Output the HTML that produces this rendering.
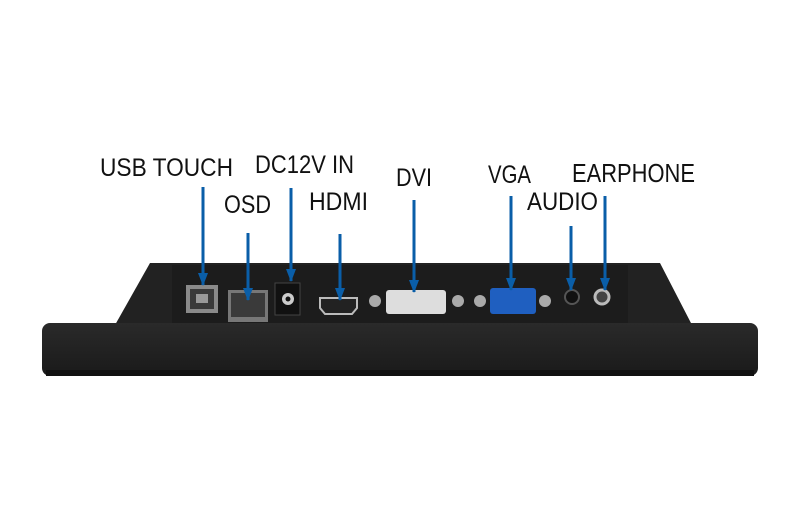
<!DOCTYPE html>
<html><head><style>html,body{margin:0;padding:0;background:#fff}svg{display:block}</style></head><body>
<svg width="800" height="517" viewBox="0 0 800 517" xmlns="http://www.w3.org/2000/svg">
<defs>
<linearGradient id="slab" x1="0" y1="0" x2="0" y2="1"><stop offset="0" stop-color="#2a2a2a"/><stop offset="1" stop-color="#1a1a1a"/></linearGradient>
<marker id="ah" markerWidth="13" markerHeight="11" refX="12" refY="5" orient="auto" markerUnits="userSpaceOnUse"><path d="M0,0 L13,5 L0,10 Z" fill="#0a5ea8"/></marker>
</defs>
<path d="M150,263 L660,263 L692,325 L115,325 Z" fill="#222"/>
<rect x="172" y="265" width="456" height="60" fill="#1c1c1c"/>
<rect x="42" y="323" width="716" height="53" rx="8" fill="url(#slab)"/>
<rect x="46" y="370" width="708" height="6" fill="#111"/>
<rect x="186" y="285" width="32" height="28" fill="#8a8a8a"/><rect x="190" y="289" width="24" height="20" fill="#3a3a3a"/><rect x="196" y="294" width="12" height="9" fill="#999"/>
<rect x="228" y="290" width="40" height="32" fill="#777"/><rect x="231" y="293" width="34" height="24" fill="#3a3a3a"/>
<rect x="275" y="283" width="25" height="32" fill="#111" stroke="#444"/><circle cx="288" cy="299" r="6" fill="#ccc"/><circle cx="288" cy="299" r="2.5" fill="#111"/>
<path d="M320,298 L357,298 L357,308 L352,314 L325,314 L320,308 Z" fill="#222" stroke="#bbb" stroke-width="2"/>
<circle cx="375" cy="301" r="6" fill="#aaa"/><circle cx="458" cy="301" r="6" fill="#aaa"/>
<rect x="386" y="290" width="60" height="24" rx="3" fill="#ddd"/>
<circle cx="480" cy="301" r="6" fill="#aaa"/><circle cx="545" cy="301" r="6" fill="#aaa"/>
<rect x="490" y="288" width="46" height="26" rx="3" fill="#1f5fc0"/>
<circle cx="572" cy="297" r="7" fill="#111" stroke="#555" stroke-width="2"/>
<circle cx="602" cy="297" r="7" fill="#444" stroke="#bbb" stroke-width="3"/>
<g stroke="#0a5ea8" stroke-width="3" marker-end="url(#ah)">
<line x1="203" y1="187" x2="203" y2="285"/>
<line x1="248" y1="233" x2="248" y2="300"/>
<line x1="291" y1="188" x2="291" y2="281"/>
<line x1="340" y1="234" x2="340" y2="300"/>
<line x1="414" y1="200" x2="414" y2="292"/>
<line x1="511" y1="196" x2="511" y2="290"/>
<line x1="571" y1="226" x2="571" y2="290"/>
<line x1="605" y1="196" x2="605" y2="290"/>
</g>
<g font-family="Liberation Sans, sans-serif" font-size="25" fill="#111">
<text x="100" y="176" textLength="133" lengthAdjust="spacingAndGlyphs">USB TOUCH</text>
<text x="224" y="213" textLength="47" lengthAdjust="spacingAndGlyphs">OSD</text>
<text x="255" y="173" textLength="99" lengthAdjust="spacingAndGlyphs">DC12V IN</text>
<text x="309" y="210" textLength="59" lengthAdjust="spacingAndGlyphs">HDMI</text>
<text x="396" y="186" textLength="36" lengthAdjust="spacingAndGlyphs">DVI</text>
<text x="488" y="183" textLength="43" lengthAdjust="spacingAndGlyphs">VGA</text>
<text x="527" y="210" textLength="71" lengthAdjust="spacingAndGlyphs">AUDIO</text>
<text x="572" y="182" font-size="26" textLength="123" lengthAdjust="spacingAndGlyphs">EARPHONE</text>
</g>
</svg>
</body></html>
